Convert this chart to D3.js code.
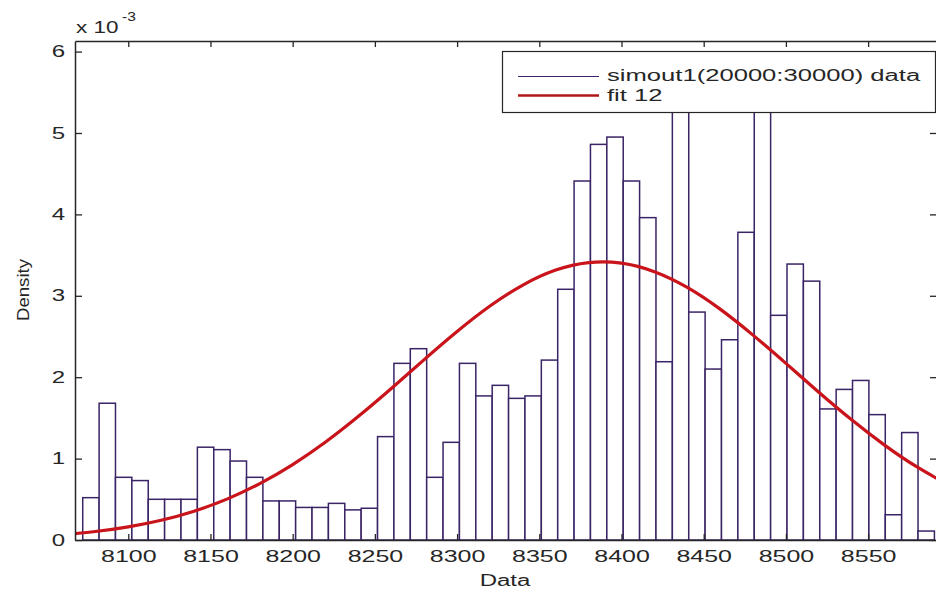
<!DOCTYPE html>
<html>
<head>
<meta charset="utf-8">
<script src="https://cdn.jsdelivr.net/npm/d3@7"></script>
<style>
  html, body { margin: 0; padding: 0; background: #fff; }
  svg { display: block; }
  text { font-family: "Liberation Sans", Arial, Helvetica, sans-serif; fill: #262626; }
</style>
</head>
<body>
<svg id="chart" width="936" height="594"></svg>
<script>
// Histogram of simout1(20000:30000): density per bin (units of 1e-3)
const binStart = 8072.3;
const binWidth = 9.962;
const densities = [
  0.52, 1.68, 0.77, 0.73, 0.50, 0.50, 0.50, 1.14, 1.11, 0.97,
  0.77, 0.48, 0.48, 0.40, 0.40, 0.45, 0.37, 0.39, 1.27, 2.17,
  2.35, 0.77, 1.20, 2.17, 1.77, 1.90, 1.74, 1.77, 2.21, 3.08,
  4.41, 4.86, 4.95, 4.41, 3.96, 2.19, 5.60, 2.80, 2.10, 2.46,
  3.78, 5.60, 2.76, 3.39, 3.18, 1.61, 1.85, 1.96, 1.54, 0.31,
  1.32, 0.11
];

// Fitted density curve "fit 12", sampled along x (units of 1e-3)
const fitX = [8060, 8080, 8100, 8120, 8140, 8160, 8180, 8200, 8220, 8240,
              8260, 8280, 8300, 8320, 8340, 8360, 8380, 8400, 8420, 8440,
              8460, 8480, 8500, 8520, 8540, 8560, 8580, 8600];
const fitY = [0.065, 0.104, 0.161, 0.242, 0.354, 0.502, 0.693, 0.927, 1.204, 1.520,
              1.862, 2.216, 2.561, 2.874, 3.132, 3.316, 3.408, 3.401, 3.296, 3.103,
              2.836, 2.517, 2.170, 1.816, 1.477, 1.166, 0.894, 0.665];

// Axis ticks
const xTicks = [8100, 8150, 8200, 8250, 8300, 8350, 8400, 8450, 8500, 8550];
const yTicks = [0, 1, 2, 3, 4, 5, 6];
const xDomain = [8067.6, 8591.9];
const yDomain = [0, 6.13];

const legendLabels = ["simout1(20000:30000) data", "fit 12"];

const barColor = "#3b2466";
const fitColor = "#c8141a";
const axisColor = "#262626";

const svg = d3.select("#chart");
const L = 75, R = 937, T = 41, B = 540;

svg.append("rect").attr("width", 936).attr("height", 594).attr("fill", "#fff");

const x = d3.scaleLinear().domain(xDomain).range([L, R]);
const y = d3.scaleLinear().domain(yDomain).range([B, T]);

svg.append("defs").append("clipPath").attr("id", "plotClip")
  .append("rect").attr("x", L).attr("y", T).attr("width", R - L).attr("height", B - T);

const plot = svg.append("g").attr("clip-path", "url(#plotClip)");

// histogram bars
plot.append("g").selectAll("rect")
  .data(densities)
  .join("rect")
  .attr("x", (d, i) => x(binStart + i * binWidth))
  .attr("width", (d, i) => x(binStart + (i + 1) * binWidth) - x(binStart + i * binWidth))
  .attr("y", d => y(d))
  .attr("height", d => y(0) - y(d))
  .attr("fill", "#fff")
  .attr("stroke", barColor)
  .attr("stroke-width", 1.5);

// fitted curve
const line = d3.line()
  .x((d, i) => x(fitX[i]))
  .y(d => y(d))
  .curve(d3.curveNatural);

plot.append("path")
  .datum(fitY)
  .attr("d", line)
  .attr("fill", "none")
  .attr("stroke", fitColor)
  .attr("stroke-width", 3.2)
  .attr("stroke-linejoin", "round");

// widen horizontal text the way the figure renders it
function widen(sel, k) {
  sel.each(function () {
    const w = this.getComputedTextLength();
    d3.select(this).attr("textLength", w * k).attr("lengthAdjust", "spacingAndGlyphs");
  });
}

function styleAxis(g) {
  g.select(".domain").attr("stroke", axisColor).attr("stroke-width", 1.5);
  g.selectAll(".tick line").attr("stroke", axisColor).attr("stroke-width", 1.3);
  g.selectAll(".tick text").attr("fill", axisColor).style("font-size", "16px");
}

// bottom axis
const gx = svg.append("g").attr("transform", `translate(0,${B})`)
  .call(d3.axisBottom(x).tickValues(xTicks).tickFormat(d3.format("d"))
    .tickSizeInner(-6).tickSizeOuter(0).tickPadding(11));
styleAxis(gx);
gx.attr("font-family", null);
widen(gx.selectAll(".tick text"), 1.56);

// top axis (ticks only)
const gxt = svg.append("g").attr("transform", `translate(0,${T})`)
  .call(d3.axisTop(x).tickValues(xTicks).tickFormat("")
    .tickSizeInner(-6).tickSizeOuter(0));
styleAxis(gxt);

// left axis
const gy = svg.append("g").attr("transform", `translate(${L},0)`)
  .call(d3.axisLeft(y).tickValues(yTicks).tickFormat(d3.format("d"))
    .tickSizeInner(-7).tickSizeOuter(0).tickPadding(10));
styleAxis(gy);
gy.attr("font-family", null);
widen(gy.selectAll(".tick text"), 1.5);

// right axis (ticks only)
const gyr = svg.append("g").attr("transform", `translate(${R},0)`)
  .call(d3.axisRight(y).tickValues(yTicks).tickFormat("")
    .tickSizeInner(-7).tickSizeOuter(0));
styleAxis(gyr);

// axis labels
const xl = svg.append("text")
  .attr("x", 505).attr("y", 586)
  .attr("text-anchor", "middle")
  .style("font-size", "16px")
  .text("Data");
widen(xl, 1.5);

svg.append("text")
  .attr("transform", "translate(29,290) rotate(-90)")
  .attr("text-anchor", "middle")
  .style("font-size", "16px")
  .attr("textLength", 62).attr("lengthAdjust", "spacingAndGlyphs")
  .text("Density");

// exponent label
const ex = svg.append("text").attr("x", 76).attr("y", 33).style("font-size", "16px").text("x 10");
widen(ex, 1.4);
const sup = svg.append("text").attr("x", 122).attr("y", 21).style("font-size", "12px").text("-3");
widen(sup, 1.3);

// legend
const lg = svg.append("g");
lg.append("rect")
  .attr("x", 502.5).attr("y", 51.5).attr("width", 433).attr("height", 61)
  .attr("fill", "#fff").attr("stroke", axisColor).attr("stroke-width", 1.2);

const legendColors = [barColor, "#b01818"];
const legendWidths = [1.2, 2.5];
const rowY = [76.5, 95.5];
const textY = [81, 101];
legendLabels.forEach((lab, i) => {
  lg.append("line")
    .attr("x1", 518).attr("x2", 599)
    .attr("y1", rowY[i]).attr("y2", rowY[i])
    .attr("stroke", legendColors[i]).attr("stroke-width", legendWidths[i]);
  const t = lg.append("text")
    .attr("x", 607).attr("y", textY[i])
    .style("font-size", "16px")
    .text(lab);
  widen(t, 1.6);
});
</script>
</body>
</html>
